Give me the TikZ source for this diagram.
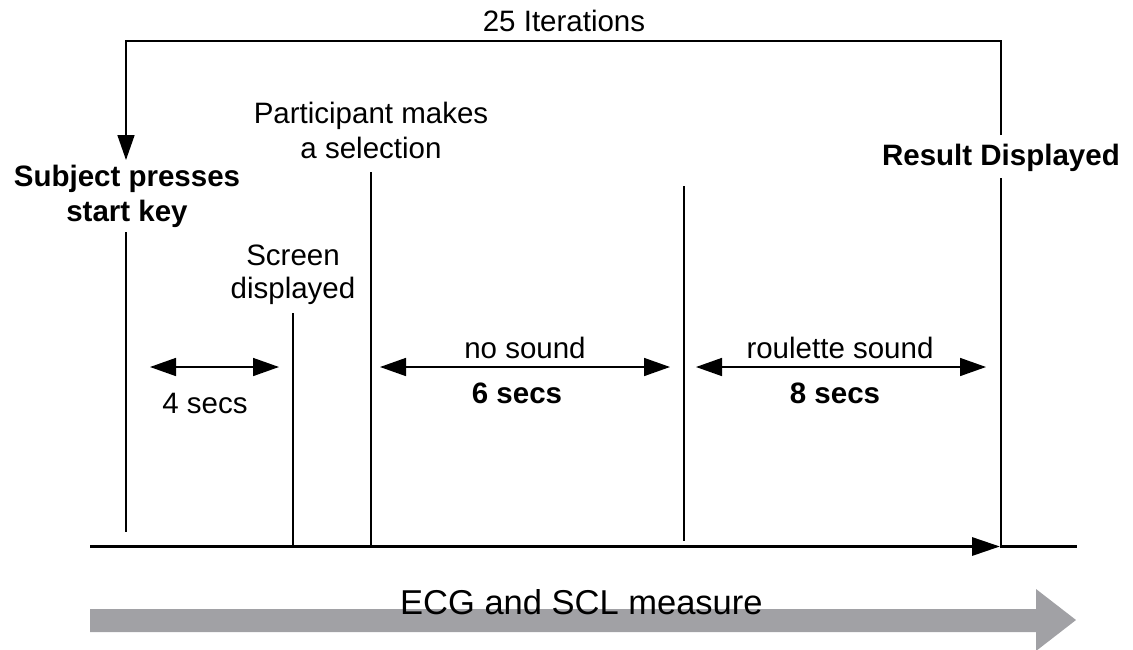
\documentclass[tikz,border=0pt]{standalone}
\usepackage{fontspec}
\setmainfont{Liberation Sans}
\usetikzlibrary{arrows.meta}
\definecolor{flowgray}{RGB}{161,161,165}
\begin{document}
\begin{tikzpicture}[x=1pt,y=-1pt,
  lbl/.style={font=\fontsize{29.5}{35}\selectfont, align=center, inner sep=0pt, anchor=base},
  blbl/.style={lbl, font=\fontsize{29.5}{35}\selectfont\bfseries},
  thinline/.style={line width=1.6pt},
  bigtip/.tip={Triangle[length=26pt,width=18pt]},
  span/.style={thinline, bigtip-bigtip},
  axisline/.style={line width=3.2pt},
]
\useasboundingbox (0,0) rectangle (1133,649);

% labels (multi-line labels sit on the baseline of their last line)
\node[lbl]  (iter) at (564,31)  {25 Iterations};
\node[blbl] (subj) at (127,221) {Subject presses\\start key};
\node[blbl, anchor=base east] (res) at (1120,165) {Result Displayed};
\node[lbl]  (part) at (371,158) {Participant makes\\a selection};
\node[lbl, font=\fontsize{29.5}{33}\selectfont] (scr) at (293,298) {Screen\\displayed};
\node[lbl]  (four)  at (205,413) {4 secs};
\node[lbl]  (nos)   at (525,358) {no sound};
\node[blbl] (six)   at (517,403) {6 secs};
\node[lbl]  (roul)  at (840,358) {roulette sound};
\node[blbl] (eight) at (835,403) {8 secs};

% loop back over the 25 iterations
\coordinate (loopL) at (126,41);
\coordinate (loopR) at (1001,41);
\coordinate (startTip) at (126,160);
\coordinate (resTop) at (1001,135);
\draw[thinline, -{Triangle[length=25pt,width=17pt]}] (resTop) -- (loopR) -- (loopL) -- (startTip);

% event markers
\coordinate (startLow) at (126,232);  \coordinate (startEnd) at (126,532);
\coordinate (scrLow)   at (293,313);  \coordinate (scrEnd)   at (293,546);
\coordinate (partLow)  at (371,172);  \coordinate (partEnd)  at (371,546);
\coordinate (midTop)   at (684,186);  \coordinate (midEnd)   at (684,541);
\coordinate (resLow)   at (1001,178); \coordinate (resEnd)   at (1001,546);
\draw[thinline] (startLow) -- (startEnd);
\draw[thinline] (scrLow) -- (scrEnd);
\draw[thinline] (partLow) -- (partEnd);
\draw[thinline] (midTop) -- (midEnd);
\draw[thinline] (resLow) -- (resEnd);

% durations
\coordinate (f1) at (150,367); \coordinate (f2) at (279,367);
\coordinate (n1) at (380,367); \coordinate (n2) at (670,367);
\coordinate (r1) at (696,367); \coordinate (r2) at (986,367);
\draw[span] (f1) -- (f2);
\draw[span] (n1) -- (n2);
\draw[span] (r1) -- (r2);

% time axis
\coordinate (ax0) at (90,546.5);
\coordinate (axTip) at (1000,546.5);
\coordinate (ax1) at (1077,546.5);
\draw[axisline, -{Triangle[length=28pt,width=18pt]}] (ax0) -- (axTip);
\draw[axisline] (axTip) -- (ax1);

% recording band
\fill[flowgray] (90,609) -- (1036,609) -- (1036,589) -- (1076,620)
  -- (1036,651) -- (1036,632) -- (90,632) -- cycle;
\node[lbl, font=\fontsize{34.5}{40}\selectfont, anchor=base west] (ecg) at (400,614) {ECG and SCL measure};
\end{tikzpicture}
\end{document}
